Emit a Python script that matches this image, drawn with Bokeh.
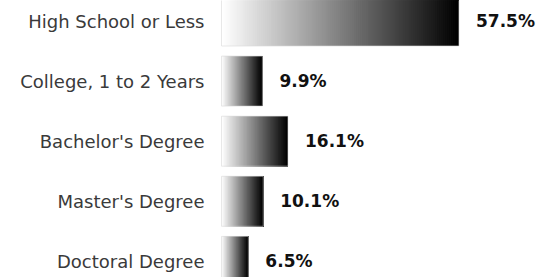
from bokeh.plotting import figure
from bokeh.models import Range1d, ColumnDataSource
from bokeh.core.properties import value
from bokeh.embed import file_html
from bokeh.resources import INLINE

categories = ["High School or Less", "College, 1 to 2 Years", "Bachelor's Degree",
              "Master's Degree", "Doctoral Degree"]
values = [57.5, 9.9, 16.1, 10.1, 6.5]
value_labels = ["57.5%", "9.9%", "16.1%", "10.1%", "6.5%"]

W, H = 539, 277
px_per_unit = 4.13
bar_left_px = 221
pitch = 60.1
first_center_px = 20.5

p = figure(width=W, height=H, output_backend="svg", toolbar_location=None,
           x_range=Range1d(-bar_left_px / px_per_unit, (W - bar_left_px) / px_per_unit),
           y_range=Range1d((H - first_center_px) / pitch, -first_center_px / pitch),
           min_border=0)
p.axis.visible = False
p.grid.visible = False
p.outline_line_color = None
p.background_fill_color = "white"
p.border_fill_color = "white"

bar_h = 50 / pitch
N = 120
lefts, rights, tops, bottoms, colors = [], [], [], [], []
for i, v in enumerate(values):
    for k in range(N):
        t = k / (N - 1)
        g = int(round(255 * (1 - t)))
        lefts.append(v * k / N)
        rights.append(v)
        tops.append(i - bar_h / 2)
        bottoms.append(i + bar_h / 2)
        colors.append("#%02x%02x%02x" % (g, g, g))

p.quad(left=lefts, right=rights, top=tops, bottom=bottoms, fill_color=colors,
       line_color=None)
p.quad(left=[0] * len(values), right=values,
       top=[i - bar_h / 2 for i in range(len(values))],
       bottom=[i + bar_h / 2 for i in range(len(values))],
       fill_color=None, line_color="#d8d8d8", line_alpha=0.6, line_width=1)

ys = list(range(len(categories)))
src = ColumnDataSource(dict(x=[0] * len(categories), y=ys, t=categories))
p.text(x="x", y="y", text="t", source=src, x_offset=-17, text_align="right",
       text_baseline="middle", text_font=value("DejaVu Sans"), text_font_size="18px",
       text_color="#3a3a3a")

src2 = ColumnDataSource(dict(x=values, y=ys, t=value_labels))
p.text(x="x", y="y", text="t", source=src2, x_offset=17, text_align="left",
       text_baseline="middle", text_font=value("DejaVu Sans"), text_font_style="bold",
       text_font_size="17px", text_color="#111111")

open("out.html", "w").write(file_html(p, INLINE))
